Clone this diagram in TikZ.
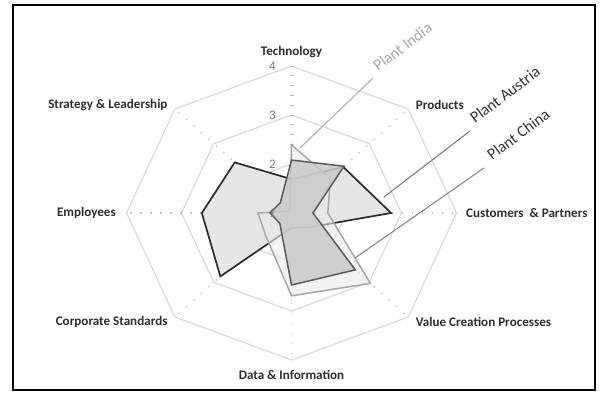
\documentclass[tikz,border=0pt]{standalone}
\usepackage{fontspec}
\setmainfont{Carlito}
\definecolor{ringc}{HTML}{D6D6D6}
\definecolor{spokec}{HTML}{BDBDBD}
\definecolor{catc}{HTML}{2E2E2E}
\definecolor{numc}{HTML}{7A7A7A}
\definecolor{austl}{HTML}{2B2B2B}
\definecolor{austf}{HTML}{E6E6E6}
\definecolor{indl}{HTML}{A8A8A8}
\definecolor{indf}{HTML}{EAEAEA}
\definecolor{chil}{HTML}{5A5A5A}
\definecolor{chif}{HTML}{C9C9C9}
\begin{document}
\begin{tikzpicture}[x=1pt,y=-1pt,
  ring/.style={draw=ringc, line width=1.1pt},
  spoke/.style={draw=spokec, line width=1.3pt, dash pattern=on 1.3pt off 8.7pt},
  axtick/.style={draw=spokec, line width=1pt},
  cat/.style={font=\bfseries\fontsize{13.1}{15}\selectfont, text=catc, inner sep=0pt},
  num/.style={font=\fontsize{13}{15}\selectfont, text=numc, inner sep=0pt, anchor=east},
  plant/.style={font=\fontsize{16}{18}\selectfont, inner sep=0pt, anchor=base west, rotate=37},
  leader/.style={line width=1pt},
  series/.style={line width=1.5pt, line join=miter}
]
\useasboundingbox (0,0) rectangle (602,394);
\fill[white] (0,0) rectangle (602,394);
% frame
\draw[black, line width=1.8pt] (13,5) rectangle (595,390);
% grid rings
\coordinate (O) at (291.5,213);
\foreach \r in {2,3,4} {
  \foreach \k in {0,...,7}
    \coordinate (R\r-\k) at ({291.5+55*(\r-1)*cos(90-45*\k)},{213-49*(\r-1)*sin(90-45*\k)});
  \draw[ring] (R\r-0) -- (R\r-1) -- (R\r-2) -- (R\r-3) -- (R\r-4) -- (R\r-5) -- (R\r-6) -- (R\r-7) -- cycle;
}
% spokes
\foreach \k in {1,...,7} \draw[spoke] (O) -- (R4-\k);
% value axis ticks
\foreach \i in {1,...,15} \draw[axtick] (289.5,{213-9.8*\i}) -- ++(4,0);
% series coordinates
\foreach \v [count=\k from 0] in {1.69,2.33,2.81,1.42,1.3,2.83,2.63,2.46}
  \coordinate (A\k) at ({291.5+55*(\v-1)*cos(90-45*\k)},{213-49*(\v-1)*sin(90-45*\k)});
\foreach \v [count=\k from 0] in {2.39,2.0,1.66,3.03,2.69,1.66,1.61,1.05}
  \coordinate (I\k) at ({291.5+55*(\v-1)*cos(90-45*\k)},{213-49*(\v-1)*sin(90-45*\k)});
\foreach \v [count=\k from 0] in {2.08,2.35,1.39,2.64,2.47,1.3,1.39,1.29}
  \coordinate (C\k) at ({291.5+55*(\v-1)*cos(90-45*\k)},{213-49*(\v-1)*sin(90-45*\k)});
% Plant Austria
\filldraw[series, fill=austf, draw=austl, line width=1.7pt] (A0) -- (A1) -- (A2) -- (A3) -- (A4) -- (A5) -- (A6) -- (A7) -- cycle;
% Plant India
\filldraw[series, fill=indf, fill opacity=0.6, draw=indl] (I0) -- (I1) -- (I2) -- (I3) -- (I4) -- (I5) -- (I6) -- (I7) -- cycle;
% Plant China
\filldraw[series, fill=chif, fill opacity=0.85, draw=chil] (C0) -- (C1) -- (C2) -- (C3) -- (C4) -- (C5) -- (C6) -- (C7) -- cycle;
% value labels
\node[num] (v4) at (276,66) {4};
\node[num] (v3) at (276,115) {3};
\node[num] (v2) at (276,164) {2};
\node[num] (v1) at (276,213) {1};
% category labels
\node[cat] (tech) at (291.5,52) {Technology};
\node[cat, anchor=west] (prod) at (415.7,105) {Products};
\node[cat, anchor=west] (cust) at (466,213) {Customers\ \ \& Partners};
\node[cat, anchor=west] (vcp) at (415.7,322) {Value Creation Processes};
\node[cat] (data) at (291.5,375) {Data \& Information};
\node[cat, anchor=east] (corp) at (167.7,322) {Corporate Standards};
\node[cat, anchor=east] (empl) at (116,213) {Employees};
\node[cat, anchor=east] (strat) at (167.7,105) {Strategy \& Leadership};
% plant labels and leaders
\node[plant, text=indl] (lind) at (378,72) {Plant India};
\node[plant, text=black!80] (laus) at (475,124) {Plant Austria};
\node[plant, text=black!80] (lchi) at (492,161) {Plant China};
\coordinate (sind) at (373,78);
\coordinate (eind) at (300,148);
\coordinate (saus) at (470,131);
\coordinate (eaus) at (384,197);
\coordinate (schi) at (484,168);
\coordinate (echi) at (355,258);
\draw[leader, draw=indl] (sind) -- (eind);
\draw[leader, draw=black!55] (saus) -- (eaus);
\draw[leader, draw=black!50] (schi) -- (echi);
\end{tikzpicture}
\end{document}
